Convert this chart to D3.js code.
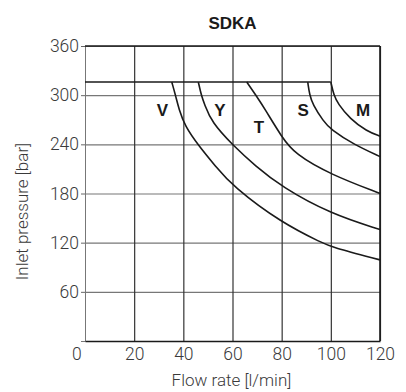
<!DOCTYPE html>
<html>
<head>
<meta charset="utf-8">
<script src="https://cdnjs.cloudflare.com/ajax/libs/d3/7.8.5/d3.min.js"></script>
<style>
  html, body { margin: 0; padding: 0; background: #fff; }
  svg { display: block; }
  .axis text { font-family: Roboto, "Liberation Sans", sans-serif; font-weight: 300; fill: #3a3a3a; }
  .axis path, .axis line { stroke: #666; }
  .grid line { stroke: #777; stroke-width: 1.2; }
  .grid path { display: none; }
  .curve { fill: none; stroke: #1a1a1a; stroke-width: 1.6; }
</style>
</head>
<body>
<div id="chart"></div>
<script>
// pressure limit line (bar)
var limitLine = [[0, 316], [100, 316]];

// curves: [flow l/min, pressure bar]
var curveV = [[35.3, 316], [36.8, 300], [38.2, 283], [40.7, 262], [46.1, 239], [52.9, 214], [60, 189], [80, 144], [97, 119], [100, 115], [120, 99]];
var curveY = [[46.1, 316], [47.3, 300], [48.6, 289], [51.5, 267], [60.1, 239], [69.2, 214], [80, 188], [100, 155], [120, 136]];
var curveT = [[65.8, 316], [69.5, 300], [73.2, 283], [80, 249], [85.4, 228], [100, 203], [120, 180]];
var curveS = [[90.6, 316], [91.4, 300], [92.6, 289], [97, 268], [100, 258], [109.2, 240], [120, 225]];
var curveM = [[100, 316], [101.2, 300], [102.8, 290], [107.8, 271], [114.6, 256], [120, 250]];

var curveNames = ["V", "Y", "T", "S", "M"];
var curveLabelAt = [[31.5, 275], [54.9, 275], [70.8, 254], [88.7, 275], [113.1, 275]];

var xTicks = [0, 20, 40, 60, 80, 100, 120];
var yTicks = [60, 120, 180, 240, 300, 360];

var title = "SDKA";
var xTitle = "Flow rate [l/min]";
var yTitle = "Inlet pressure [bar]";

var W = 406, H = 392;
var MARGIN = { top: 46, right: 26, bottom: 51, left: 85 };
var width = W - MARGIN.left - MARGIN.right;
var height = H - MARGIN.top - MARGIN.bottom;

var svg = d3.select("#chart").append("svg").attr("width", W).attr("height", H);
var g = svg.append("g").attr("transform", "translate(" + MARGIN.left + "," + MARGIN.top + ")");

var x = d3.scaleLinear().domain([0, 120]).range([0, width]);
var y = d3.scaleLinear().domain([0, 360]).range([height, 0]);

// grid
g.append("g").attr("class", "grid")
  .call(d3.axisLeft(y).tickValues(yTicks).tickSize(-width).tickFormat(""));
var vGrid = g.append("g").attr("class", "grid")
  .call(d3.axisBottom(x).tickValues(xTicks.slice(1)).tickSize(height).tickFormat(""));
vGrid.selectAll("line").style("stroke", "#333");

// axes
var yAxis = g.append("g").attr("class", "axis")
  .call(d3.axisLeft(y).tickValues(yTicks).tickSize(4).tickPadding(2));
yAxis.selectAll("text").style("font-size", "17.5px");
yAxis.select(".domain").style("stroke", "#777");

var xAxis = g.append("g").attr("class", "axis")
  .attr("transform", "translate(0," + height + ")")
  .call(d3.axisBottom(x).tickValues(xTicks).tickSize(0).tickPadding(7));
xAxis.selectAll("text").style("font-size", "17.5px")
  .attr("dx", function(d) { return d === 0 ? "-0.5em" : 0; });
xAxis.select(".domain").style("stroke", "#1a1a1a").style("stroke-width", 1.5);

// frame top / right
g.append("line").attr("x1", 0).attr("x2", width).attr("y1", 0).attr("y2", 0)
  .style("stroke", "#1a1a1a").style("stroke-width", 1.5);
g.append("line").attr("x1", width).attr("x2", width).attr("y1", 0).attr("y2", height)
  .style("stroke", "#1a1a1a").style("stroke-width", 1.6);

var straight = d3.line()
  .x(function(d) { return x(d[0]); })
  .y(function(d) { return y(d[1]); });

// B-spline smooths out small reading errors, like the hand-drawn original
var smooth = d3.line()
  .x(function(d) { return x(d[0]); })
  .y(function(d) { return y(d[1]); })
  .curve(d3.curveBasis);

g.append("path").datum(limitLine).attr("class", "curve").attr("d", straight);

[curveV, curveY, curveT, curveS, curveM].forEach(function(c) {
  g.append("path").datum(c).attr("class", "curve").attr("d", smooth);
});

g.selectAll(".curve-label").data(curveNames).enter().append("text")
  .attr("class", "curve-label")
  .attr("x", function(d, i) { return x(curveLabelAt[i][0]); })
  .attr("y", function(d, i) { return y(curveLabelAt[i][1]); })
  .attr("text-anchor", "middle")
  .style("font-family", "'Liberation Sans', Arial, sans-serif")
  .style("font-weight", "bold")
  .style("font-size", "17px")
  .style("fill", "#1a1a1a")
  .text(function(d) { return d; });

svg.append("text")
  .attr("x", MARGIN.left + width / 2).attr("y", 29)
  .attr("text-anchor", "middle")
  .style("font-family", "'Liberation Sans', Arial, sans-serif")
  .style("font-weight", "bold").style("font-size", "17px").style("fill", "#1a1a1a")
  .text(title);

svg.append("text")
  .attr("x", MARGIN.left + width / 2 - 1).attr("y", 386)
  .attr("text-anchor", "middle")
  .style("font-family", "Roboto, sans-serif").style("font-weight", 300)
  .style("font-size", "17px").style("fill", "#3a3a3a")
  .text(xTitle);

svg.append("text")
  .attr("transform", "translate(28," + (MARGIN.top + height / 2 + 18) + ") rotate(-90)")
  .attr("text-anchor", "middle")
  .style("font-family", "Roboto, sans-serif").style("font-weight", 300)
  .style("font-size", "17px").style("fill", "#3a3a3a")
  .text(yTitle);
</script>
</body>
</html>
